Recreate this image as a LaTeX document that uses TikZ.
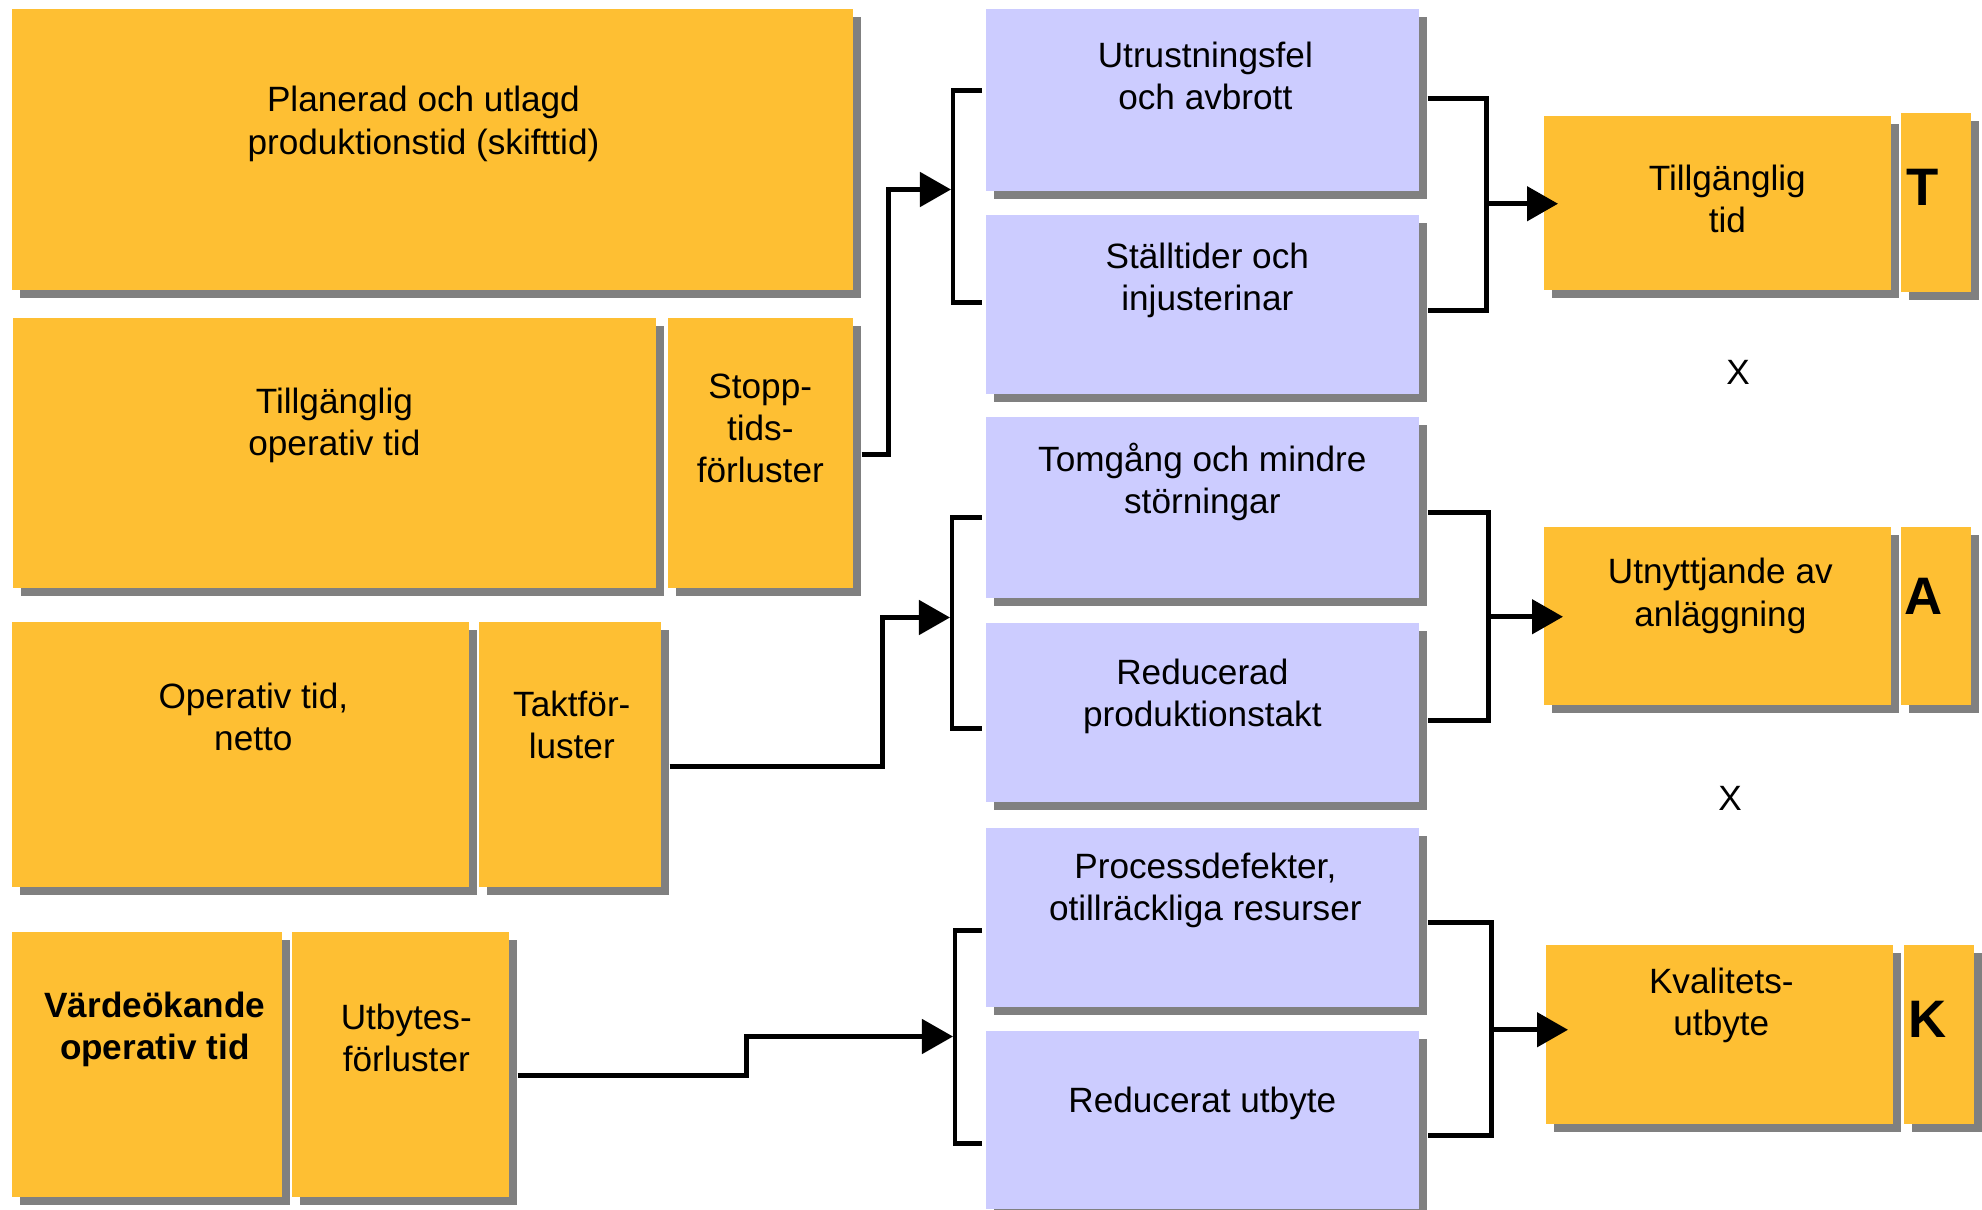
\documentclass[tikz,border=0pt]{standalone}
\usepackage{fontspec}
\setmainfont{Liberation Sans}
\usetikzlibrary{arrows.meta}
\usetikzlibrary{positioning}
\usetikzlibrary{shadows}
\usetikzlibrary{calc}

\definecolor{boxorange}{RGB}{254,191,51}
\definecolor{lossblue}{RGB}{204,204,255}
\definecolor{shadowgray}{RGB}{128,128,128}

\begin{document}
\begin{tikzpicture}
	[x=0.01cm, y=-0.01cm]

\useasboundingbox (0,0) rectangle (1982,1210);

% Styles
\tikzstyle{box} =
	[anchor=north west, inner sep=0pt,
	 drop shadow={shadow xshift=0.08cm, shadow yshift=-0.08cm, fill=shadowgray, opacity=1}]

\tikzstyle{timebox} =
	[box, fill=boxorange]

\tikzstyle{lossbox} =
	[box, fill=lossblue, minimum width=4.33cm]

\tikzstyle{box text} =
	[align=center, font=\fontsize{10}{12}\selectfont]

\tikzstyle{factor letter} =
	[font=\fontsize{15}{18}\selectfont\bfseries]

% Time boxes, left

\node (planerad) at (11, 8) [timebox, minimum width=8.41cm, minimum height=2.81cm] {};
\node (tillgop) at (12, 317) [timebox, minimum width=6.43cm, minimum height=2.70cm] {};
\node (stopp) at (667, 317) [timebox, minimum width=1.85cm, minimum height=2.70cm] {};
\node (opnetto) at (11, 621) [timebox, minimum width=4.57cm, minimum height=2.65cm] {};
\node (takt) at (478, 621) [timebox, minimum width=1.82cm, minimum height=2.65cm] {};
\node (varde) at (11, 931) [timebox, minimum width=2.70cm, minimum height=2.65cm] {};
\node (utbytes) at (291, 931) [timebox, minimum width=2.17cm, minimum height=2.65cm] {};

\node (planerad-text) [box text] at ($(planerad.north)!0.41!(planerad.south) + (-9,0)$)
	{Planerad och utlagd\\produktionstid (skifttid)};
\node (tillgop-text) [box text] at ($(tillgop.north)!0.40!(tillgop.south)$)
	{Tillgänglig\\operativ tid};
\node (stopp-text) [box text] at ($(stopp.north)!0.41!(stopp.south)$)
	{Stopp-\\tids-\\förluster};
\node (opnetto-text) [box text] at ($(opnetto.north)!0.36!(opnetto.south) + (13,0)$)
	{Operativ tid,\\netto};
\node (takt-text) [box text] at ($(takt.north)!0.39!(takt.south) + (2,0)$)
	{Taktför-\\luster};
\node (varde-text) [box text, font=\fontsize{10}{12}\selectfont\bfseries]
	at ($(varde.north)!0.37!(varde.south) + (8,0)$)
	{Värdeökande\\operativ tid};
\node (utbytes-text) [box text] at ($(utbytes.north)!0.40!(utbytes.south) + (6,0)$)
	{Utbytes-\\förluster};

% Loss boxes

\node (fel) at (985, 8) [lossbox, minimum height=1.82cm] {};
\node (stall) at (985, 214) [lossbox, minimum height=1.79cm] {};
\node (tomgang) at (985, 416) [lossbox, minimum height=1.81cm] {};
\node (takten) at (985, 622) [lossbox, minimum height=1.79cm] {};
\node (defekt) at (985, 827) [lossbox, minimum height=1.79cm] {};
\node (utbyte) at (985, 1030) [lossbox, minimum height=1.78cm] {};

\node (fel-text) [box text] at ($(fel.north)!0.37!(fel.south) + (3,0)$)
	{Utrustningsfel\\och avbrott};
\node (stall-text) [box text] at ($(stall.north)!0.37!(stall.south) + (5,0)$)
	{Ställtider och\\injusterinar};
\node (tomgang-text) [box text] at ($(tomgang.north)!0.36!(tomgang.south)$)
	{Tomgång och mindre\\störningar};
\node (takten-text) [box text] at ($(takten.north)!0.41!(takten.south)$)
	{Reducerad\\produktionstakt};
\node (defekt-text) [box text] at ($(defekt.north)!0.35!(defekt.south) + (3,0)$)
	{Processdefekter,\\otillräckliga resurser};
\node (utbyte-text) [box text] at ($(utbyte.north)!0.41!(utbyte.south)$)
	{Reducerat utbyte};

% Time boxes, right

\node (tid) at (1543, 115) [timebox, minimum width=3.47cm, minimum height=1.74cm] {};
\node (tbox) at (1900, 112) [timebox, minimum width=0.70cm, minimum height=1.79cm] {};
\node (util) at (1543, 526) [timebox, minimum width=3.47cm, minimum height=1.78cm] {};
\node (abox) at (1900, 526) [timebox, minimum width=0.70cm, minimum height=1.78cm] {};
\node (kval) at (1545, 944) [timebox, minimum width=3.47cm, minimum height=1.79cm] {};
\node (kbox) at (1903, 944) [timebox, minimum width=0.70cm, minimum height=1.79cm] {};

\node (tid-text) [box text] at ($(tid.north)!0.48!(tid.south) + (10,0)$)
	{Tillgänglig\\tid};
\node (util-text) [box text] at ($(util.north)!0.39!(util.south) + (3,0)$)
	{Utnyttjande av\\anläggning};
\node (kval-text) [box text] at ($(kval.north)!0.34!(kval.south) + (2,0)$)
	{Kvalitets-\\utbyte};

\node (t-letter) [factor letter] at ($(tbox.north)!0.42!(tbox.south) + (-13,0)$) {T};
\node (a-letter) [factor letter] at ($(abox.north)!0.39!(abox.south) + (-12,0)$) {A};
\node (k-letter) [factor letter] at ($(kbox.north)!0.42!(kbox.south) + (-11,0)$) {K};

\node (times-1) [box text] at (1738, 372) {X};
\node (times-2) [box text] at (1730, 798) {X};

% Edges

\tikzstyle{bracket} =
	[line width=1.35pt]

\tikzstyle{flow} =
	[line width=1.35pt, -{Triangle[length=3.1mm, width=3.4mm]}]

\coordinate (in1) at ([shift={(-34,-2)}]fel.south west);
\coordinate (in2) at ([shift={(-35,19)}]tomgang.south west);
\coordinate (in3) at ([shift={(-32,29)}]defekt.south west);

\draw[bracket] ([shift={(-3,-9)}]fel.west) -- ++(-29,0) |- ([shift={(-3,-1.5)}]stall.west);
\draw[bracket] ([shift={(-3,10.5)}]tomgang.west) -- ++(-30,0) |- ([shift={(-3,16.5)}]takten.west);
\draw[bracket] ([shift={(-3,13.5)}]defekt.west) -- ++(-27,0) |- ([shift={(-3,23.5)}]utbyte.west);

\draw[flow] ([shift={(8,2)}]stopp.east) -- ++(27,0) |- (in1);
\draw[flow] ([shift={(8,12.5)}]takt.east) -- ++(213,0) |- (in2);
\draw[flow] ([shift={(8,11.5)}]utbytes.east) -- ++(229,0) |- (in3);

\draw[bracket] ([shift={(8,-1)}]fel.east) -- ++(59,0) coordinate (out1)
	|- ([shift={(8,6.5)}]stall.east);
\draw[bracket] ([shift={(8,5.5)}]tomgang.east) -- ++(61,0) coordinate (out2)
	|- ([shift={(8,8.5)}]takten.east);
\draw[bracket] ([shift={(8,5.5)}]defekt.east) -- ++(64,0) coordinate (out3)
	|- ([shift={(8,15.5)}]utbyte.east);

\coordinate (tip1) at ([shift={(15,1)}]tid.west);
\coordinate (tip2) at ([shift={(20,1)}]util.west);
\coordinate (tip3) at ([shift={(23,-4.5)}]kval.west);

\draw[flow] (out1 |- tip1) -- (tip1);
\draw[flow] (out2 |- tip2) -- (tip2);
\draw[flow] (out3 |- tip3) -- (tip3);

\end{tikzpicture}
\end{document}
